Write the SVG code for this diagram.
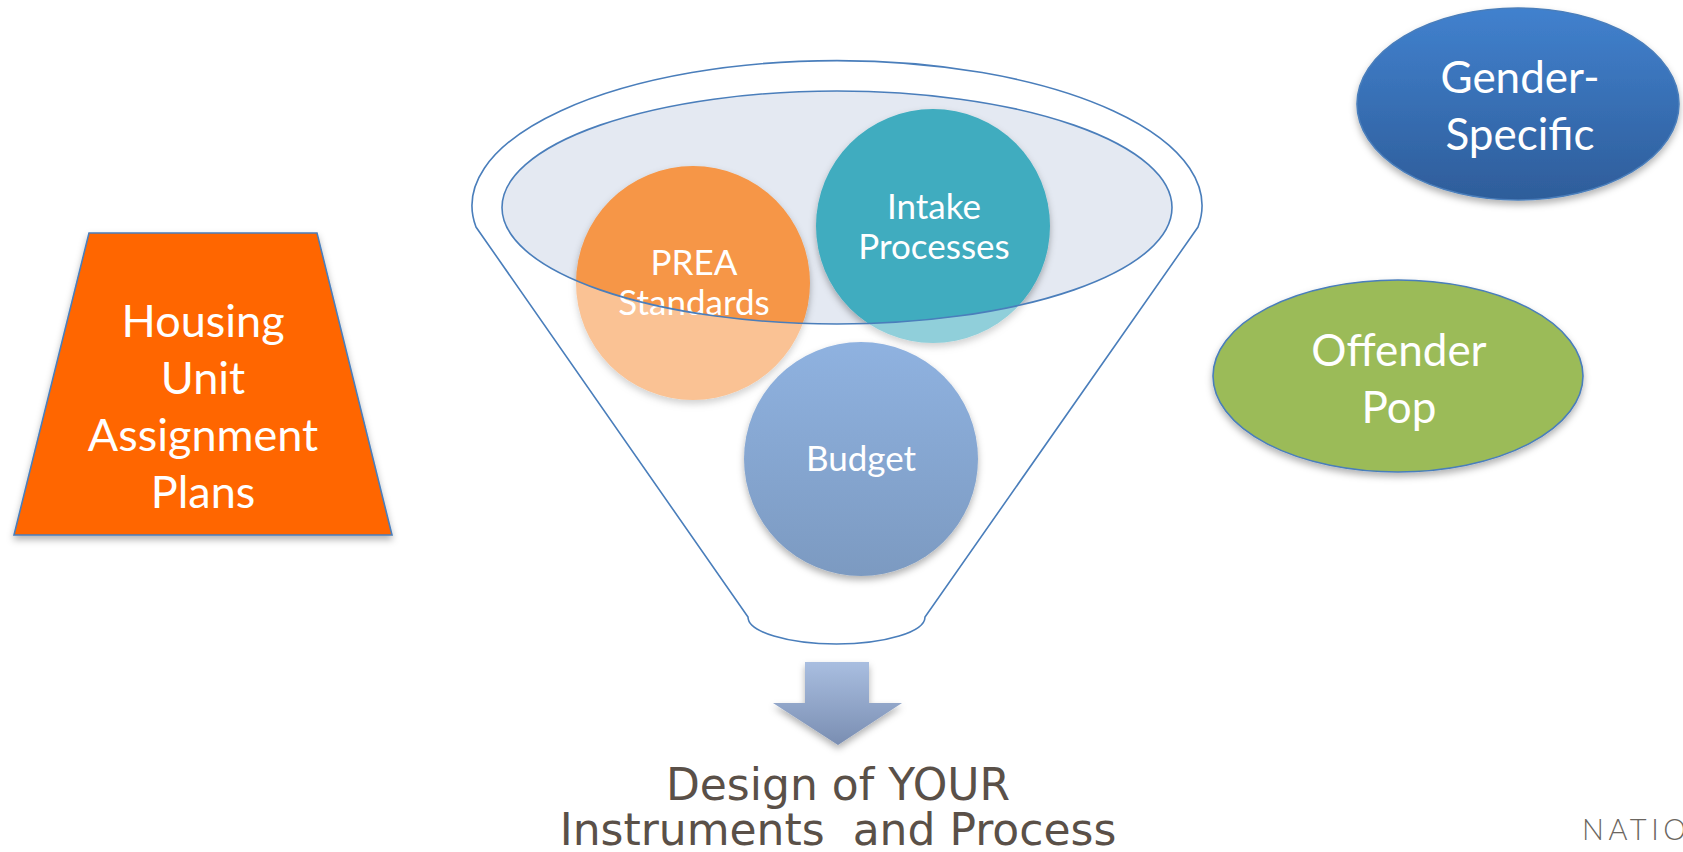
<svg xmlns="http://www.w3.org/2000/svg" width="1683" height="852" viewBox="0 0 1683 852">
  <defs>
    <filter id="shadow" x="-20%" y="-20%" width="140%" height="150%">
      <feDropShadow dx="0" dy="4" stdDeviation="3.5" flood-color="#000" flood-opacity="0.3"/>
    </filter>
    <linearGradient id="gBlue" x1="0" y1="0" x2="0" y2="1">
      <stop offset="0" stop-color="#4181CE"/>
      <stop offset="1" stop-color="#2E5D9A"/>
    </linearGradient>
    <linearGradient id="gBudget" x1="0" y1="0" x2="0" y2="1">
      <stop offset="0" stop-color="#8FB2E0"/>
      <stop offset="1" stop-color="#7C9AC1"/>
    </linearGradient>
    <linearGradient id="gArrow" x1="0" y1="0" x2="0" y2="1">
      <stop offset="0" stop-color="#A9BEE0"/>
      <stop offset="1" stop-color="#7A8EB2"/>
    </linearGradient>
    <style>
      .lbl { font-family: Lato, "Liberation Sans", sans-serif; fill: #FFFFFF; text-anchor: middle; }
      .big { font-size: 45px; }
      .mid { font-size: 35px; }
      .edge { stroke: #4A7EBB; stroke-width: 1.6; }
      .caption { font-family: "DejaVu Sans", Verdana, sans-serif; font-size: 44px; fill: #5A5048; text-anchor: middle; }
    </style>
  </defs>

  <rect width="1683" height="852" fill="#FFFFFF"/>

  <!-- left trapezoid -->
  <g id="housing">
    <polygon points="89,233 317,233 392,535 14,535" fill="#FF6600" class="edge" filter="url(#shadow)"/>
    <text class="lbl big" x="203" y="337">Housing</text>
    <text class="lbl big" x="203" y="394">Unit</text>
    <text class="lbl big" x="203" y="451">Assignment</text>
    <text class="lbl big" x="203" y="508">Plans</text>
  </g>

  <!-- funnel opening fill -->
  <g id="funnel">
    <ellipse cx="837" cy="207.5" rx="335" ry="116.5" fill="#E4E9F2"/>
  </g>

  <g id="prea">
    <circle cx="693" cy="283" r="117" fill="#F69646" filter="url(#shadow)"/>
    <text class="lbl mid" x="694" y="275">PREA</text>
    <text class="lbl mid" x="694" y="315">Standards</text>
  </g>

  <g id="intake">
    <circle cx="933" cy="226" r="117" fill="#3FACBF" filter="url(#shadow)"/>
    <text class="lbl mid" x="934" y="219">Intake</text>
    <text class="lbl mid" x="934" y="259">Processes</text>
  </g>

  <g id="funnel-body">
    <!-- translucent body veils the lower part of the circles -->
    <path fill="#FFFFFF" fill-opacity="0.42" fill-rule="evenodd"
          d="M 476 227 A 365 145 0 1 1 1198 227 L 925 617 A 88.5 27 0 0 1 748 617 Z
             M 502 207.5 A 335 116.5 0 1 0 1172 207.5 A 335 116.5 0 1 0 502 207.5 Z"/>
    <path fill="none" class="edge"
          d="M 476 227 A 365 145 0 1 1 1198 227 L 925 617 A 88.5 27 0 0 1 748 617 Z"/>
    <ellipse cx="837" cy="207.5" rx="335" ry="116.5" fill="none" class="edge"/>
  </g>

  <g id="budget">
    <circle cx="861" cy="459" r="117" fill="url(#gBudget)" filter="url(#shadow)"/>
    <text class="lbl mid" x="861" y="471">Budget</text>
  </g>

  <!-- right-hand ellipses -->
  <g id="gender">
    <ellipse cx="1518" cy="104" rx="161" ry="96" fill="url(#gBlue)" class="edge" stroke-width="1" filter="url(#shadow)"/>
    <text class="lbl" font-size="44" x="1520" y="93">Gender-</text>
    <text class="lbl" font-size="44" x="1520" y="150">Specific</text>
  </g>

  <g id="offender">
    <ellipse cx="1398" cy="376" rx="185" ry="96" fill="#9BBB59" class="edge" filter="url(#shadow)"/>
    <text class="lbl" font-size="44" x="1399" y="366">Offender</text>
    <text class="lbl" font-size="44" x="1399" y="423">Pop</text>
  </g>

  <!-- outcome arrow and caption -->
  <g id="connectors">
    <polygon points="805,662 869,662 869,703 902,703 838,745 773,703 805,703" fill="url(#gArrow)" filter="url(#shadow)"/>
  </g>

  <g id="outcome">
    <text class="caption" x="838" y="800">Design of YOUR</text>
    <text class="caption" x="838" y="845" xml:space="preserve">Instruments  and Process</text>
  </g>

  <text x="1582" y="840" font-family="Lato, 'Open Sans', sans-serif" font-weight="300" font-size="29" letter-spacing="4.5" fill="#6B6660">NATIO</text>
</svg>
